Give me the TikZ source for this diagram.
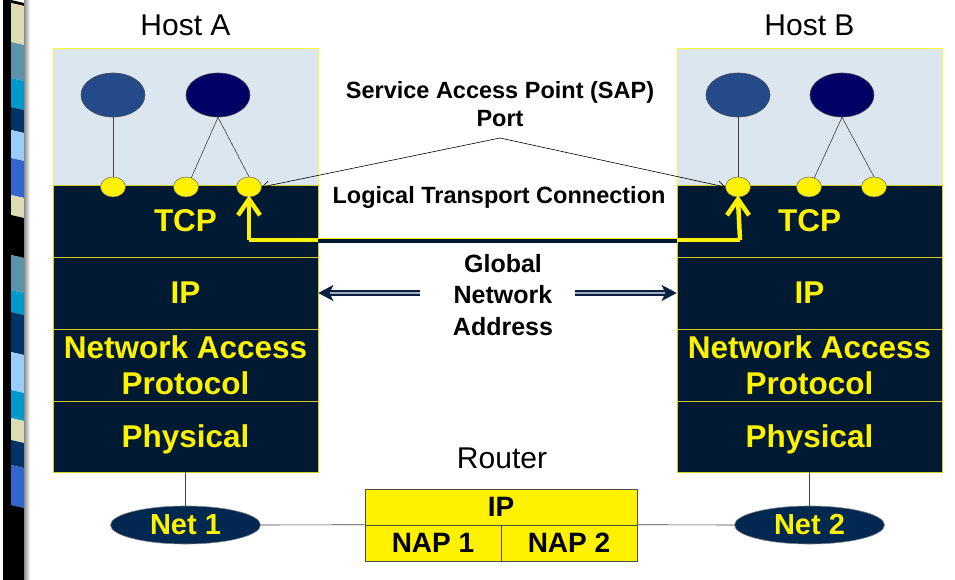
\documentclass[tikz,border=0pt]{standalone}
\usepackage{fontspec}
\setmainfont{Liberation Sans}
\usetikzlibrary{arrows.meta,shapes.geometric,calc}
\definecolor{lightbg}{HTML}{DCE6EE}
\definecolor{layerbg}{HTML}{001A33}
\definecolor{edgeyel}{HTML}{CFCF20}
\definecolor{appone}{HTML}{244A8A}
\definecolor{apptwo}{HTML}{000066}
\definecolor{netblue}{HTML}{002850}
\definecolor{arrnavy}{HTML}{0A2040}
\definecolor{arrgray}{HTML}{A0ACBC}
\definecolor{sbeige}{HTML}{DCDCB4}
\definecolor{ssteel}{HTML}{5A93AA}
\definecolor{scyan}{HTML}{0099CC}
\definecolor{snavy}{HTML}{003366}
\definecolor{slight}{HTML}{99CCFF}
\definecolor{sroyal}{HTML}{3366CC}
\begin{document}
\begin{tikzpicture}[x=1pt,y=-1pt,
  layer/.style={rectangle, fill=layerbg, draw=edgeyel, line width=0.8pt, minimum width=265pt, minimum height=72pt, inner sep=0pt, text=yellow, align=center, font=\bfseries\fontsize{31.5}{36}\selectfont},
  toparea/.style={rectangle, fill=lightbg, draw=yellow!80!white, line width=0.8pt, minimum width=265pt, minimum height=137pt, inner sep=0pt},
  appnode/.style={ellipse, draw=black!70, line width=0.6pt, minimum width=64pt, minimum height=44pt, inner sep=0pt},
  sapdot/.style={ellipse, fill=yellow, draw=black!60, line width=0.5pt, minimum width=25pt, minimum height=20pt, inner sep=0pt},
  lbl/.style={align=center, font=\bfseries\fontsize{23.5}{28}\selectfont},
  hostlbl/.style={font=\fontsize{30}{34}\selectfont},
  netnode/.style={ellipse, fill=netblue, draw=black!50, line width=0.6pt, minimum width=150pt, minimum height=38pt, inner sep=0pt, text=yellow, font=\bfseries\fontsize{29}{32}\selectfont},
  routercell/.style={rectangle, fill=yellow, draw=black!70, line width=0.6pt, minimum height=36pt, inner sep=0pt, font=\bfseries\fontsize{28}{30}\selectfont},
  thinline/.style={draw=black!75, line width=0.6pt},
  ylink/.style={draw=yellow, line width=4.5pt, line join=miter},
  sapar/.style={draw=black, line width=0.6pt, -{Straight Barb[length=7pt,width=9pt]}},
  ghead/.style={draw=arrnavy, fill=arrnavy, line width=0.3pt, -{Stealth[length=15pt,width=16pt,inset=4pt]}},
  gshaft/.style={draw=arrnavy, line width=6pt, shorten >=12pt},
  gshaftin/.style={draw=arrgray, line width=2.2pt, shorten >=12pt}
]
\useasboundingbox (0,0) rectangle (955,580);
\fill[white] (0,0) rectangle (955,580);

% decorative left strip
\fill[black] (3,0) rectangle (11,580);
\foreach \ya/\yb/\c in {0/3/black, 3/42/sbeige, 42/78/ssteel, 78/107/scyan, 107/130/snavy, 130/158/slight, 158/195/sroyal, 195/215/sbeige, 215/255/black, 255/290/ssteel, 290/312/scyan, 312/352/snavy, 352/390/slight, 390/418/scyan, 418/440/sbeige, 440/465/snavy, 465/505/sroyal, 505/580/black}
  \fill[\c] (11,\ya) -- (24,\ya+3) -- (24,\yb+3) -- (11,\yb) -- cycle;
\shade[left color=black!45, right color=white] (24,0) rectangle (30,580);

% Host A
\node[hostlbl] (hostA) at (185.5,25) {Host A};
\node[toparea] (topA) at (185.5,116.5) {};
\node[layer] (tcpA) at (185.5,221) {TCP};
\node[layer] (ipA) at (185.5,293) {IP};
\node[layer] (napA) at (185.5,365) {Network Access\\Protocol};
\node[layer, minimum height=71pt, text depth=0pt] (physA) at (185.5,436.5) {Physical};

% Host B
\node[hostlbl] (hostB) at (809.5,25) {Host B};
\node[toparea] (topB) at (809.5,116.5) {};
\node[layer] (tcpB) at (809.5,221) {TCP};
\node[layer] (ipB) at (809.5,293) {IP};
\node[layer] (napB) at (809.5,365) {Network Access\\Protocol};
\node[layer, minimum height=71pt, text depth=0pt] (physB) at (809.5,436.5) {Physical};

% applications
\node[appnode, fill=appone] (appA1) at (113,95) {};
\node[appnode, fill=apptwo] (appA2) at (218,95) {};
\node[appnode, fill=appone] (appB1) at (738,95) {};
\node[appnode, fill=apptwo] (appB2) at (842,95) {};

% SAP dots
\node[sapdot] (sapA1) at (113,187) {};
\node[sapdot] (sapA2) at (186,187) {};
\node[sapdot] (sapA3) at (249,187) {};
\node[sapdot] (sapB1) at (738,187) {};
\node[sapdot] (sapB2) at (809,187) {};
\node[sapdot] (sapB3) at (874,187) {};

\draw[thinline] (appA1.south) -- (sapA1.north);
\draw[thinline] (appA2.south) -- (sapA2.60);
\draw[thinline] (appA2.south) -- (sapA3.north);
\draw[thinline] (appB1.south) -- (sapB1.north);
\draw[thinline] (appB2.south) -- (sapB2.60);
\draw[thinline] (appB2.south) -- (sapB3.north);

% logical transport connection
\coordinate (ca) at (249,240);
\coordinate (cb) at (740,240);
\draw[ylink] (ca) -- (cb);
\draw[draw=layerbg, line width=4pt] ($(tcpA.east |- ca)+(0,1.2)$) -- ($(tcpB.west |- cb)+(0,1.2)$);
\draw[ylink] (ca) -- ($(sapA3.south)+(0,2)$);
\draw[ylink] ($(sapA3.south)+(-11,18)$) -- ($(sapA3.south)+(0,2)$) -- ($(sapA3.south)+(11,18)$);
\draw[ylink] (cb) -- ($(sapB1.south)+(0,2)$);
\draw[ylink] ($(sapB1.south)+(-11,18)$) -- ($(sapB1.south)+(0,2)$) -- ($(sapB1.south)+(11,18)$);

% labels
\node[lbl] (saplbl) at (500,104) {Service Access Point (SAP)\\Port};
\node[lbl] (ltclbl) at (499,197) {Logical Transport Connection};
\node[lbl, font=\bfseries\fontsize{25}{31.5}\selectfont] (gna) at (503,295) {Global\\Network\\Address};

% SAP pointers
\coordinate (apex) at (500,138);
\draw[sapar] (apex) -- (sapA3.east);
\draw[sapar] (apex) -- (sapB1.west);

% global network address arrows
\coordinate (gl) at (420,293);
\coordinate (gr) at (575,293);
\draw[ghead] (gl) -- (ipA.east);
\draw[gshaft] (gl) -- (ipA.east);
\draw[gshaftin] (gl) -- (ipA.east);
\draw[ghead] (gr) -- (ipB.west);
\draw[gshaft] (gr) -- (ipB.west);
\draw[gshaftin] (gr) -- (ipB.west);

% networks and router
\node[hostlbl] (routerlbl) at (502,458) {Router};
\node[netnode] (net1) at (185.5,525) {Net 1};
\node[netnode] (net2) at (809.5,525) {Net 2};
\node[routercell, minimum width=272pt] (rip) at (501,507) {IP};
\node[routercell, minimum width=136pt] (nap1) at (433,543) {NAP 1};
\node[routercell, minimum width=136pt] (nap2) at (569,543) {NAP 2};

\draw[thinline] (physA.south) -- (net1.north);
\draw[thinline] (physB.south) -- (net2.north);
\draw[thinline] (net1.east) -- (nap1.north west);
\draw[thinline] (nap2.north east) -- (net2.west);
\end{tikzpicture}
\end{document}
